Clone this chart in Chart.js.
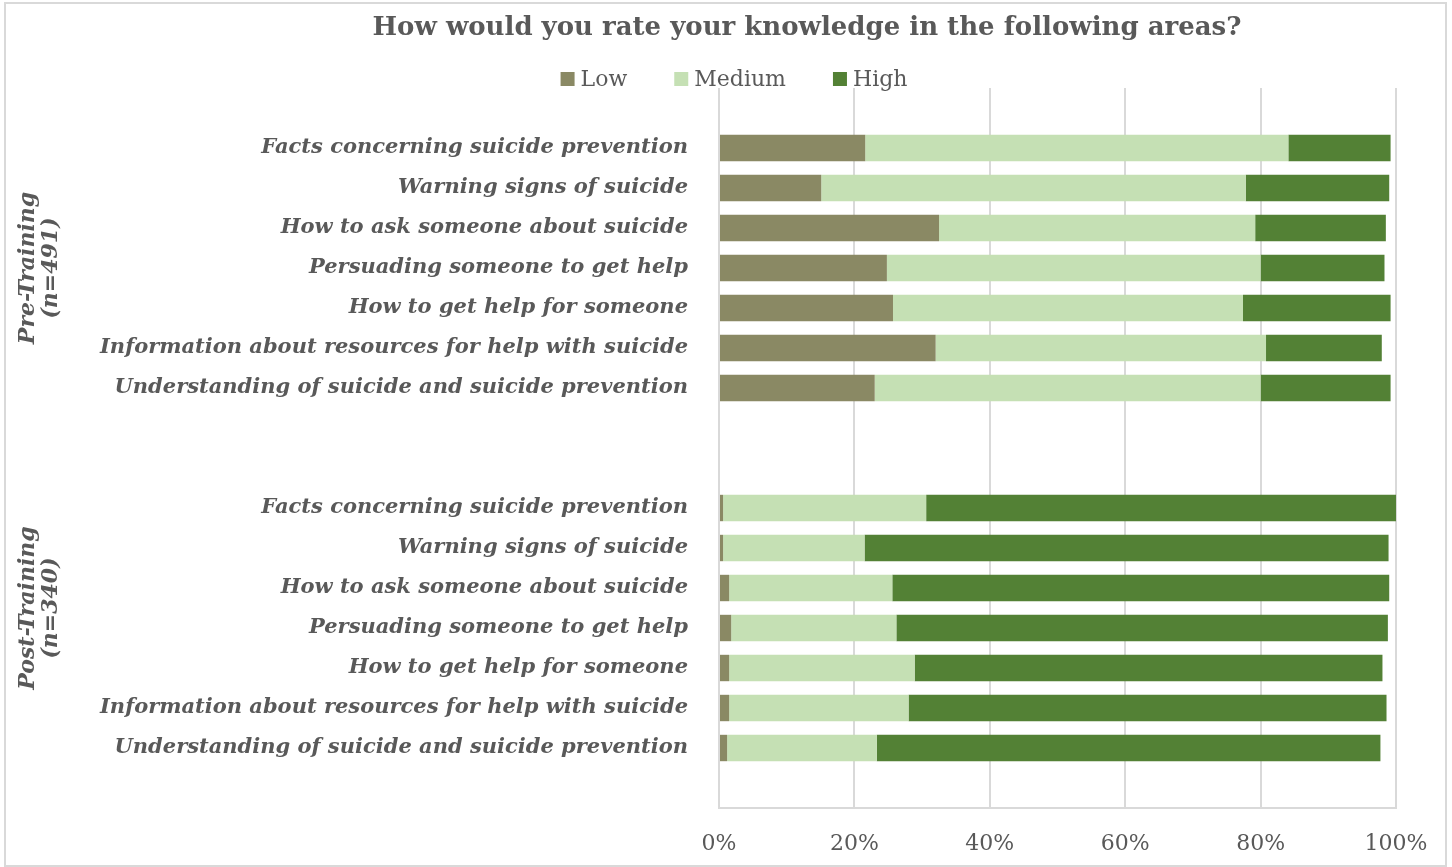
<!DOCTYPE html>
<html>
<head>
<meta charset="utf-8">
<title>Knowledge ratings</title>
<script src="https://cdn.jsdelivr.net/npm/chart.js@4.4.1/dist/chart.umd.min.js"></script>
<style>
  html, body { margin: 0; padding: 0; background: #fff; }
  #wrap { width: 1452px; height: 867px; }
</style>
</head>
<body>
<div id="wrap"><canvas id="chart" width="1452" height="867"></canvas></div>
<script>
const chartTitle = "How would you rate your knowledge in the following areas?";

const topics = [
  "Facts concerning suicide prevention",
  "Warning signs of suicide",
  "How to ask someone about suicide",
  "Persuading someone to get help",
  "How to get help for someone",
  "Information about resources for help with suicide",
  "Understanding of suicide and suicide prevention"
];

// percentages, read top to bottom
const preLow     = [21.6, 15.1, 32.5, 24.8, 25.7, 32.0, 23.0];
const preMedium  = [62.5, 62.7, 46.7, 55.2, 51.7, 48.8, 57.0];
const preHigh    = [15.1, 21.2, 19.3, 18.3, 21.8, 17.1, 19.2];

const postLow    = [0.6, 0.6, 1.5, 1.8, 1.5, 1.5, 1.2];
const postMedium = [30.0, 20.9, 24.1, 24.4, 27.4, 26.5, 22.1];
const postHigh   = [69.4, 77.4, 73.4, 72.6, 69.1, 70.6, 74.4];

const groupNames = [["Pre-Training", "(n=491)"], ["Post-Training", "(n=340)"]];
const seriesNames = ["Low", "Medium", "High"];
const seriesColors = ["#8a8964", "#c5e0b4", "#538135"];
const xTicks = [0, 20, 40, 60, 80, 100];

// category slots: blank, pre x7, blank, blank, post x7, blank
const labels = ["", ...topics, "", "", ...topics, ""];
function slots(pre, post) {
  return [null, ...pre, null, null, ...post, null];
}
// index ranges each group label is centred on
const groupSpans = [[1, 7], [9, 16]];

const FONT = '"DejaVu Serif", serif';
const GREY = "#595959";

const extras = {
  id: "extras",
  beforeDraw(chart) {
    const ctx = chart.ctx;
    ctx.save();
    ctx.strokeStyle = "#d9d9d9";
    ctx.lineWidth = 2;
    ctx.strokeRect(5, 3, chart.width - 11, chart.height - 4);
    ctx.restore();
  },
  afterDraw(chart) {
    const ctx = chart.ctx;
    ctx.save();
    ctx.fillStyle = GREY;
    ctx.textBaseline = "middle";

    // title
    ctx.font = "bold 26px " + FONT;
    ctx.textAlign = "center";
    ctx.fillText(chartTitle, 807, 28);

    // legend
    ctx.font = "22px " + FONT;
    ctx.textAlign = "left";
    const box = 14, gap = 6, spacing = 47;
    const widths = chart.data.datasets.map(d => box + gap + ctx.measureText(d.label).width);
    const total = widths.reduce((a, b) => a + b, 0) + spacing * (widths.length - 1);
    let x = 734 - total / 2;
    chart.data.datasets.forEach((d, i) => {
      ctx.fillStyle = d.backgroundColor;
      ctx.fillRect(x, 79 - box / 2, box, box);
      ctx.fillStyle = GREY;
      ctx.fillText(d.label, x + box + gap, 80);
      x += widths[i] + spacing;
    });

    // group labels on the category axis
    const y = chart.scales.y;
    ctx.font = "italic bold 22px " + FONT;
    ctx.textAlign = "center";
    groupNames.forEach((lines, g) => {
      const [a, b] = groupSpans[g];
      const cy = (y.getPixelForValue(a) + y.getPixelForValue(b)) / 2;
      lines.forEach((line, k) => {
        ctx.save();
        ctx.translate(28 + k * 23, cy);
        ctx.rotate(-Math.PI / 2);
        ctx.fillText(line, 0, 0);
        ctx.restore();
      });
    });
    ctx.restore();
  }
};

new Chart(document.getElementById("chart"), {
  type: "bar",
  data: {
    labels: labels,
    datasets: [
      { label: seriesNames[0], data: slots(preLow, postLow), backgroundColor: seriesColors[0] },
      { label: seriesNames[1], data: slots(preMedium, postMedium), backgroundColor: seriesColors[1] },
      { label: seriesNames[2], data: slots(preHigh, postHigh), backgroundColor: seriesColors[2] }
    ]
  },
  options: {
    indexAxis: "y",
    responsive: false,
    animation: false,
    layout: { padding: { top: 88, right: 56, bottom: 0, left: 0 } },
    datasets: {
      bar: { categoryPercentage: 1, barPercentage: 0.66, borderWidth: 0 }
    },
    scales: {
      x: {
        stacked: true,
        min: 0,
        max: 100,
        afterFit: s => { s.height = 59; },
        afterBuildTicks: s => { s.ticks = xTicks.map(v => ({ value: v })); },
        grid: { color: "#d9d9d9", lineWidth: 2, drawTicks: false },
        border: { display: true, color: "#d9d9d9", width: 2 },
        ticks: {
          padding: 23,
          color: GREY,
          font: { family: FONT, size: 22 },
          callback: v => v + "%"
        }
      },
      y: {
        stacked: true,
        afterFit: s => { s.width = 719; },
        grid: { display: false, drawTicks: false },
        border: { display: false },
        ticks: {
          padding: 31,
          autoSkip: false,
          color: GREY,
          font: { family: FONT, size: 21, style: "italic", weight: "bold" }
        }
      }
    },
    plugins: {
      legend: { display: false },
      title: { display: false },
      tooltip: { enabled: false }
    }
  },
  plugins: [extras]
});
</script>
</body>
</html>
